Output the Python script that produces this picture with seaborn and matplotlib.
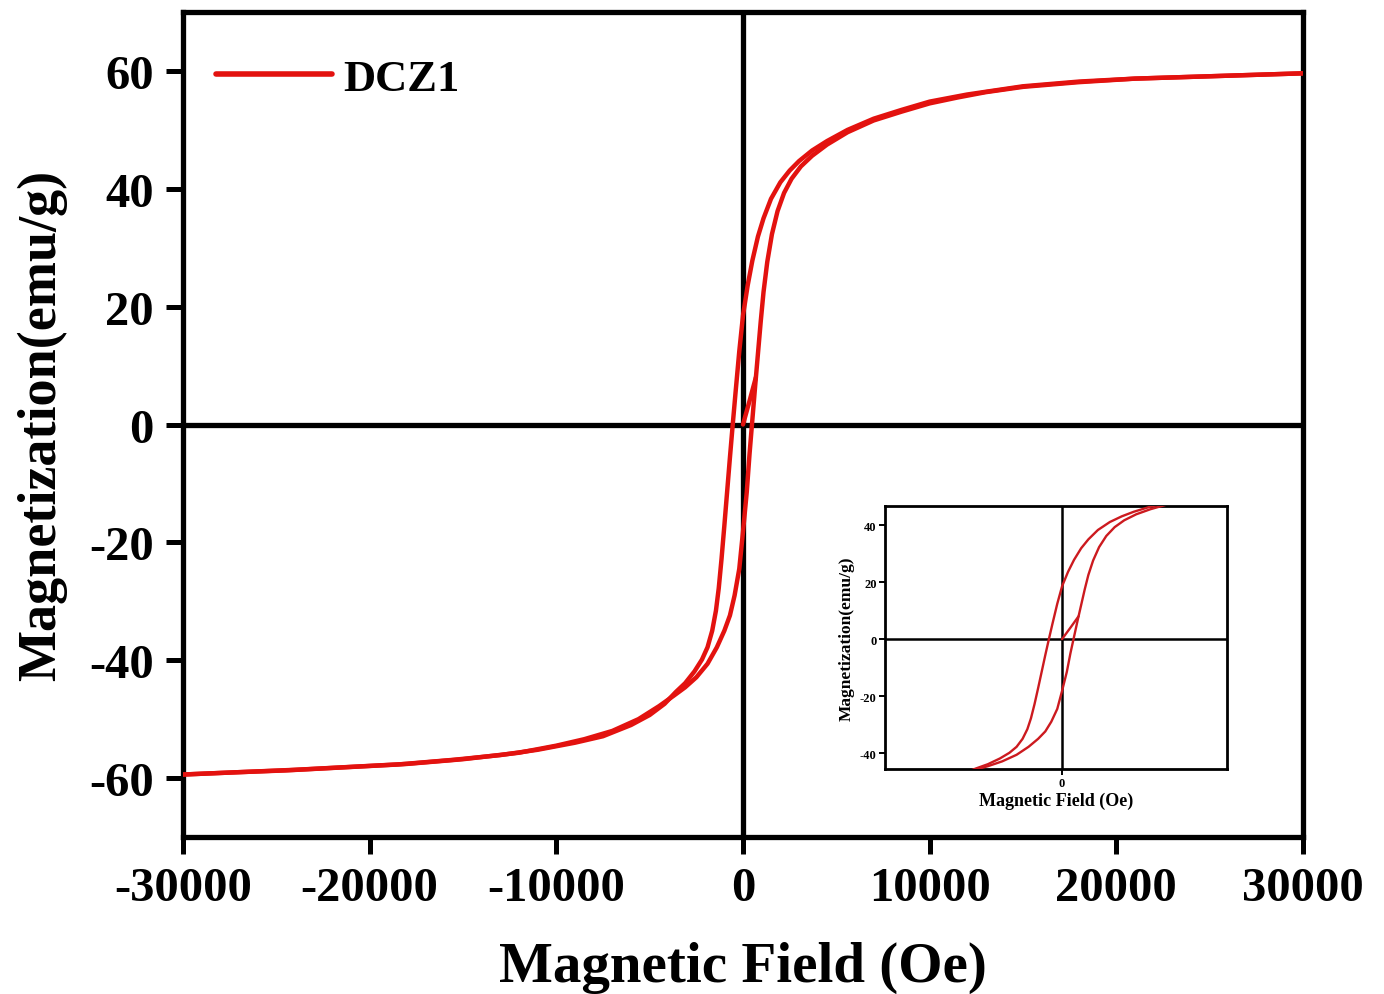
import numpy as np
import pandas as pd
import matplotlib
matplotlib.use("Agg")
import matplotlib.pyplot as plt
from matplotlib.lines import Line2D
import seaborn as sns

# ---------------- data ----------------
# descending branch: +30000 Oe -> -30000 Oe
desc_H = [30000, 27000, 24000, 21000, 18000, 15000, 12000, 10000, 8500, 7000,
          5600, 4500, 3700, 3000, 2500, 2000, 1500, 1100, 800, 500, 250, 0,
          -200, -400, -550, -700, -850, -1000, -1150, -1300, -1450, -1650,
          -1900, -2200, -2600, -3100, -3600, -4200, -5000, -6000, -7500, -9000,
          -11000, -13000, -15500, -18500, -21500, -24500, -27000, -30000]
desc_M = [59.6, 59.3, 59.0, 58.7, 58.2, 57.4, 56.0, 54.8, 53.4, 51.9,
          50.0, 48.1, 46.5, 44.7, 43.1, 41.1, 38.3, 35.0, 31.9, 27.8, 23.6, 18.5,
          12.4, 5.4, 0.0, -5.6, -11.4, -17.2, -22.8, -27.8, -31.6, -35.0,
          -37.8, -39.9, -41.9, -43.9, -45.4, -47.4, -49.3, -51.0, -52.9, -54.0,
          -55.2, -56.1, -56.9, -57.7, -58.2, -58.7, -59.0, -59.4]

# ascending branch: -30000 Oe -> +30000 Oe
asc_H = [-30000, -27000, -24000, -21000, -18000, -15000, -12000, -10000, -8500,
         -7000, -5600, -4500, -3700, -3100, -2500, -1900, -1400, -1000, -700,
         -450, -200, 0, 200, 350, 480, 650, 800, 950, 1100, 1300, 1550, 1850,
         2200, 2600, 3100, 3700, 4500, 5600, 7000, 8500, 10000, 11500, 13000,
         15000, 18000, 21000, 24000, 27000, 30000]
asc_M = [-59.4, -59.0, -58.6, -58.1, -57.6, -56.8, -55.7, -54.5, -53.4,
         -52.0, -50.0, -47.8, -46.0, -44.6, -42.9, -40.6, -37.8, -35.0, -32.4,
         -29.0, -24.5, -18.2, -11.5, -5.0, 0.0, 6.5, 12.0, 17.5, 22.5, 27.6, 32.3, 36.2,
         39.3, 41.7, 43.8, 45.6, 47.5, 49.6, 51.6, 53.1, 54.5, 55.5, 56.4,
         57.3, 58.1, 58.7, 59.0, 59.3, 59.6]

# initial (virgin) segment from the origin
virgin_H = [0, 350, 690]
virgin_M = [0.0, 4.0, 8.0]

series_label = "DCZ1"
x_ticks = [-30000, -20000, -10000, 0, 10000, 20000, 30000]
y_ticks = [-60, -40, -20, 0, 20, 40, 60]
inset_y_ticks = [-40, -20, 0, 20, 40]
inset_x_ticks = [0]

# ---------------- styling ----------------
sns.set_theme(style="white")
plt.rcParams["font.family"] = ["Liberation Serif", "DejaVu Serif"]
plt.rcParams["font.weight"] = "bold"
plt.rcParams["axes.unicode_minus"] = False
plt.rcParams["text.color"] = "black"
plt.rcParams["axes.labelcolor"] = "black"

df = pd.concat([
    pd.DataFrame({"H": virgin_H, "M": virgin_M, "seg": "virgin"}),
    pd.DataFrame({"H": desc_H, "M": desc_M, "seg": "desc"}),
    pd.DataFrame({"H": asc_H, "M": asc_M, "seg": "asc"}),
], ignore_index=True)

RED = "#e3120f"
INSET_RED = "#cc1a1f"

fig = plt.figure(figsize=(13.84, 9.95), dpi=100)
ax = fig.add_axes([0.1322, 0.1578, 0.8093, 0.8291])

ax.axhline(0, color="black", lw=3.8, zorder=1)
ax.axvline(0, color="black", lw=3.8, zorder=1)
sns.lineplot(data=df, x="H", y="M", units="seg", estimator=None, sort=False,
             color=RED, lw=3.2, ax=ax, zorder=3, legend=False)

ax.set_xlim(-30000, 30000)
ax.set_ylim(-70, 70)
ax.set_xticks(x_ticks)
ax.set_yticks(y_ticks)
ax.set_xticklabels([str(t) for t in x_ticks])
ax.set_yticklabels([str(t) for t in y_ticks])
ax.tick_params(axis="both", direction="out", length=12, width=3.6,
               labelsize=35, pad=9, bottom=True, left=True, top=False, right=False,
               colors="black")
for lab in ax.get_xticklabels() + ax.get_yticklabels():
    lab.set_fontweight("bold")
for sp in ax.spines.values():
    sp.set_linewidth(3.8)
    sp.set_color("black")
ax.set_xlabel("Magnetic Field (Oe)", fontsize=41, fontweight="bold",
              labelpad=22, color="black")
ax.set_ylabel("Magnetization(emu/g)", fontsize=39, fontweight="bold",
              labelpad=16, color="black")

handle = Line2D([0], [0], color=RED, lw=4)
leg = ax.legend([handle], [series_label], loc="upper left", frameon=False,
                prop={"size": 32, "weight": "bold"}, handlelength=2.6,
                handletextpad=0.25, borderaxespad=0.35,
                bbox_to_anchor=(0.0, 0.984))
for t in leg.get_texts():
    t.set_color("black")

# ---------------- inset ----------------
axi = fig.add_axes([0.6395, 0.2261, 0.2471, 0.2643])
axi.axhline(0, color="black", lw=1.8, zorder=1)
axi.axvline(0, color="black", lw=1.8, zorder=1)
sns.lineplot(data=df, x="H", y="M", units="seg", estimator=None, sort=False,
             color=INSET_RED, lw=1.7, ax=axi, zorder=3, legend=False)
axi.set_xlim(-7400, 6900)
axi.set_ylim(-45.6, 46.7)
axi.set_xticks(inset_x_ticks)
axi.set_yticks(inset_y_ticks)
axi.set_xticklabels([str(t) for t in inset_x_ticks])
axi.set_yticklabels([str(t) for t in inset_y_ticks])
axi.tick_params(axis="both", direction="out", length=4, width=1.4,
                labelsize=9, pad=2, bottom=True, left=True, top=False, right=False,
                colors="black")
for lab in axi.get_xticklabels() + axi.get_yticklabels():
    lab.set_fontweight("bold")
for sp in axi.spines.values():
    sp.set_linewidth(2.0)
    sp.set_color("black")
axi.set_xlabel("Magnetic Field (Oe)", fontsize=13, fontweight="bold",
               labelpad=2, color="black")
axi.set_ylabel("Magnetization(emu/g)", fontsize=12.5, fontweight="bold",
               labelpad=4, color="black")

fig.savefig("out.png", dpi=100, facecolor="white")
